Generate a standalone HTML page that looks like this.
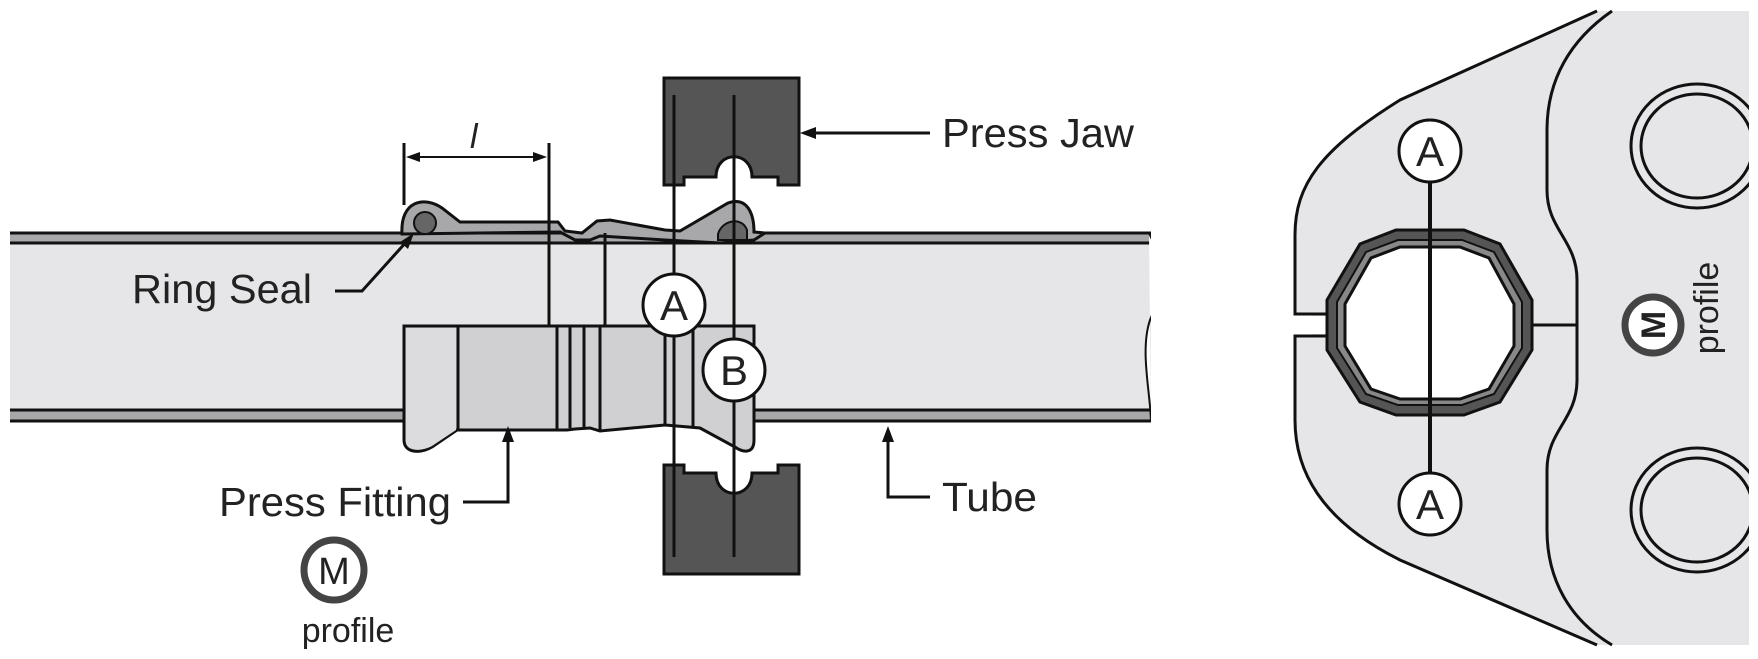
<!DOCTYPE html>
<html><head><style>html,body{margin:0;padding:0;background:#fff}svg{display:block}text{font-family:"Liberation Sans",Arial,sans-serif;fill:#222}</style></head>
<body>
<svg width="1758" height="659" viewBox="0 0 1758 659" xmlns="http://www.w3.org/2000/svg">
<rect x="10" y="233" width="1141" height="188" fill="#e6e6e8"/>
<rect x="10" y="233" width="1141" height="10" fill="#a8a8aa"/>
<rect x="10" y="410" width="1141" height="11" fill="#a8a8aa"/>
<g stroke="#111" stroke-width="3" fill="none">
<line x1="10" y1="233" x2="1151" y2="233"/><line x1="10" y1="243" x2="1151" y2="243"/>
<line x1="10" y1="410" x2="1151" y2="410"/><line x1="10" y1="421" x2="1151" y2="421"/>
</g>
<path d="M1149,233 C1162,260 1165,285 1150,320 C1140,350 1150,390 1151,421" fill="#fff" stroke="#111" stroke-width="2"/>
<rect x="1151" y="225" width="20" height="205" fill="#fff"/>
<path d="M402,234 C400,200 425,196 442,208 L460,222 L558,222 L565,231 L582,233 L597,221 L610,220 L665,230 L680,231 L728,203 C748,196 754,215 754,232 L765,233 L754,240 L720,243 L665,240 L600,236 L590,240 L575,240 L560,232 Z" fill="#a8a8aa" stroke="#111" stroke-width="3"/>
<circle cx="425" cy="223" r="11" fill="#666" stroke="#111" stroke-width="2"/>
<path d="M718,234 C722,220 742,216 747,230 L747,240 L718,240 Z" fill="#666" stroke="#111" stroke-width="2"/>
<path d="M404,326 L754,326 L754,440 C754,455 742,452 735,447 L700,428 L665,425 L600,431 L590,428 L575,429 L567,430 L557,430 L457,430 L432,447 C420,454 404,453 404,440 Z" fill="#d0d0d3" stroke="#111" stroke-width="3"/>
<path d="M406,328 L456,328 L456,430 L432,446 C420,452 406,451 406,440 Z" fill="#dcdcde"/>
<g stroke="#111" stroke-width="3">
<line x1="458" y1="326" x2="458" y2="430"/><line x1="557" y1="326" x2="557" y2="430"/>
<line x1="570" y1="326" x2="570" y2="428"/><line x1="584" y1="326" x2="584" y2="428"/>
<line x1="600" y1="326" x2="600" y2="431"/><line x1="665" y1="326" x2="665" y2="425"/>
<line x1="693" y1="326" x2="693" y2="428"/>
</g>
<g stroke="#111" stroke-width="3">
<line x1="404" y1="143" x2="404" y2="205"/><line x1="549" y1="143" x2="549" y2="326"/>
<line x1="605" y1="233" x2="605" y2="326"/>
<line x1="412" y1="157" x2="541" y2="157" stroke-width="2"/>
</g>
<path d="M406,157 L420,152 L420,162 Z M547,157 L533,152 L533,162 Z" fill="#111"/>
<text x="470" y="148" font-size="34" font-style="italic">l</text>
<path d="M664,78 H799 V185 H778 V177 H752 C752,150 716,150 716,177 H684 V185 H664 Z" fill="#555" stroke="#111" stroke-width="3"/>
<path d="M664,574 H799 V465 H778 V473 H752 C752,500 716,500 716,473 H684 V465 H664 Z" fill="#555" stroke="#111" stroke-width="3"/>
<g stroke="#111" stroke-width="3"><line x1="674" y1="95" x2="674" y2="557"/><line x1="734" y1="95" x2="734" y2="557"/></g>
<g stroke="#111" stroke-width="3" fill="#fff">
<circle cx="674" cy="305" r="31"/><circle cx="734" cy="370" r="31"/>
</g>
<text x="674" y="320" font-size="42" text-anchor="middle">A</text>
<text x="734" y="385" font-size="42" text-anchor="middle">B</text>
<g stroke="#111" stroke-width="3" fill="none">
<line x1="930" y1="133" x2="812" y2="133"/>
<polyline points="335,291 362,291 408,240"/>
<polyline points="463,502 508,502 508,440"/>
<polyline points="930,497 888,497 888,440"/>
</g>
<path d="M800,133 L816,127 L816,139 Z M414,233 L400,242 L408,249 Z M508,426 L502,442 L514,442 Z M888,426 L882,442 L894,442 Z" fill="#111"/>
<text x="942" y="147" font-size="41" textLength="192" lengthAdjust="spacingAndGlyphs">Press Jaw</text>
<text x="132" y="303" font-size="41" textLength="180" lengthAdjust="spacingAndGlyphs">Ring Seal</text>
<text x="219" y="516" font-size="41" textLength="232" lengthAdjust="spacingAndGlyphs">Press Fitting</text>
<text x="942" y="511" font-size="41" textLength="95" lengthAdjust="spacingAndGlyphs">Tube</text>
<circle cx="334" cy="570" r="30" fill="#fff" stroke="#444" stroke-width="7"/>
<text x="334" y="584" font-size="38" text-anchor="middle" fill="#333">M</text>
<text x="348" y="642" font-size="34" text-anchor="middle" fill="#444">profile</text>
<path d="M1597,11 L1760,11 L1760,645 L1597,645 L1400,560 C1320,520 1295,470 1295,420 L1295,336 L1312,336 L1312,314 L1295,314 L1295,235 C1295,185 1320,150 1400,100 Z" fill="#e6e6e8"/>
<rect x="1293" y="316" width="35" height="18" fill="#fff"/>
<path d="M1597,11 L1400,100 C1320,150 1295,185 1295,235 L1295,314 L1326,314 M1326,336 L1295,336 L1295,420 C1295,470 1320,520 1400,560 L1597,645" fill="none" stroke="#111" stroke-width="3"/>
<path d="M1612,11 C1570,40 1547,80 1547,130 L1547,190 C1547,230 1577,240 1577,280 L1577,380 C1577,420 1547,430 1547,470 L1547,530 C1547,580 1570,620 1612,645" fill="none" stroke="#111" stroke-width="3"/>
<rect x="1749" y="0" width="9" height="659" fill="#fff"/>
<line x1="1532" y1="325" x2="1577" y2="325" stroke="#111" stroke-width="3"/>
<g fill="none" stroke="#111" stroke-width="3">
<ellipse cx="1697" cy="146" rx="66" ry="62"/><ellipse cx="1697" cy="146" rx="56" ry="52"/>
<ellipse cx="1697" cy="510" rx="66" ry="62"/><ellipse cx="1697" cy="510" rx="56" ry="52"/>
</g>
<rect x="1749" y="60" width="9" height="540" fill="#fff"/>
<path d="M1396,230 L1464,230 L1500,244 L1532,300 L1532,350 L1500,402 L1464,415 L1396,415 L1360,402 L1327,350 L1327,300 L1360,244 Z" fill="#555" stroke="#111" stroke-width="3"/>
<path d="M1398,240 L1462,240 L1494,252 L1522,302 L1522,348 L1494,394 L1462,405 L1398,405 L1366,394 L1337,348 L1337,302 L1366,252 Z" fill="#888" stroke="#111" stroke-width="2"/>
<path d="M1400,247 L1460,247 L1489,258 L1514,304 L1514,346 L1489,389 L1460,399 L1400,399 L1371,389 L1345,346 L1345,304 L1371,258 Z" fill="#fff" stroke="#111" stroke-width="3"/>
<line x1="1430" y1="151" x2="1430" y2="504" stroke="#111" stroke-width="4"/>
<g stroke="#111" stroke-width="3" fill="#fff"><circle cx="1430" cy="151" r="31"/><circle cx="1430" cy="504" r="31"/></g>
<text x="1430" y="166" font-size="42" text-anchor="middle">A</text>
<text x="1430" y="519" font-size="42" text-anchor="middle">A</text>
<circle cx="1653" cy="325" r="28" fill="#fff" stroke="#444" stroke-width="7"/>
<text transform="translate(1665,325) rotate(-90)" font-size="34" text-anchor="middle" font-weight="bold" fill="#333">M</text>
<text transform="translate(1718,308) rotate(-90)" font-size="34" text-anchor="middle" fill="#444">profile</text>
</svg>
</body></html>
